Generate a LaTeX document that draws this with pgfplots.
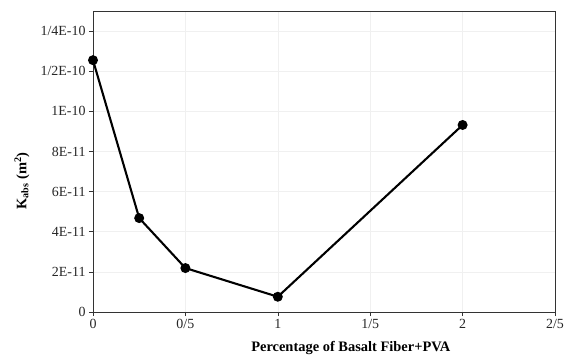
\documentclass[border=0pt]{standalone}
\usepackage{pgfplots}
\pgfplotsset{compat=1.18}
\usepackage{fontspec}
\setmainfont{Liberation Serif}
\begin{document}
\begin{tikzpicture}
\begin{axis}[
  scale only axis,
  width=462bp, height=301bp,
  xmin=0, xmax=2.5,
  ymin=0, ymax=1.5e-10,
  xtick={0,0.5,1,1.5,2,2.5},
  xticklabels={0,0/5,1,1/5,2,2/5},
  ytick={0,2e-11,4e-11,6e-11,8e-11,1e-10,1.2e-10,1.4e-10},
  yticklabels={0,2E-11,4E-11,6E-11,8E-11,1E-10,1/2E-10,1/4E-10},
  scaled y ticks=false,
  tick align=outside,
  tick style={black!80, line width=0.6pt},
  major tick length=4bp,
  xtick pos=bottom, ytick pos=left,
  grid=major,
  grid style={gray!12, line width=0.5pt},
  axis line style={black!80, line width=0.8pt},
  tick label style={font=\fontsize{14}{16}\selectfont, text=black!85},
  /pgf/number format/assume math mode=true,
  xlabel={\textbf{Percentage of Basalt Fiber+PVA}},
  ylabel={\textbf{K\textsubscript{abs} (m\textsuperscript{2})}},
  label style={font=\fontsize{14.5}{16}\selectfont},
  xlabel style={at={(axis description cs:0.558,-0.12)}, anchor=center},
  ylabel style={at={(axis description cs:-0.154,0.435)}, anchor=center, rotate=0},
]
\addplot[black, line width=2.1pt, mark=*, mark size=3.9pt, mark options={solid, fill=black}]
coordinates {
  (0, 1.255e-10)
  (0.25, 4.68e-11)
  (0.5, 2.19e-11)
  (1, 7.6e-12)
  (2, 9.32e-11)
};
\end{axis}
\pgfresetboundingbox
\path ([shift={(-93bp,-50bp)}]current axis.south west) rectangle ([shift={(474bp,312bp)}]current axis.south west);
\end{tikzpicture}
\end{document}
